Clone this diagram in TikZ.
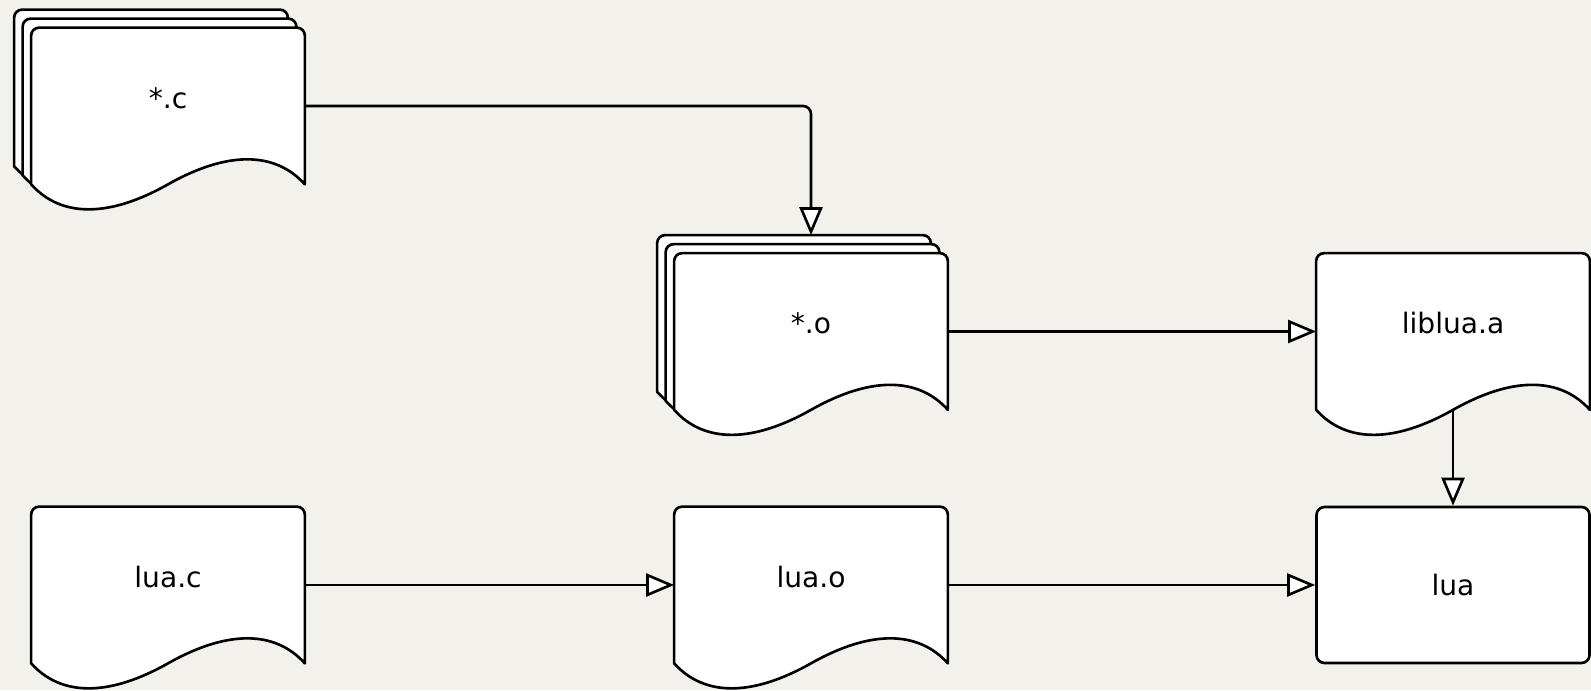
\documentclass[tikz,border=0pt]{standalone}
\usepackage{fontspec}
\setmainfont{DejaVu Sans}
\usetikzlibrary{arrows.meta,backgrounds}
\definecolor{paper}{HTML}{F3F1EC}

% corner radius of sheets, boxes and bends
\def\crad{0.16cm}
% one sheet with a wavy bottom, drawn round a node
\newcommand\docsheet[2][]{%
  \path[sheet,#1] (#2.south west) -- ([yshift=-\crad]#2.north west)
    arc[start angle=180, end angle=90, radius=\crad] -- ([xshift=-\crad]#2.north east)
    arc[start angle=90, end angle=0, radius=\crad] -- (#2.south east)
    .. controls +(-0.6,0.667) and +(1.18,0.667) .. (#2.south)
    .. controls +(-1.18,-0.667) and +(0.6,-0.667) .. (#2.south west) -- cycle;}
% three sheets stacked
\newcommand\docstack[1]{%
  \docsheet[transform canvas={shift={(-0.34,0.36)}}]{#1}
  \docsheet[transform canvas={shift={(-0.17,0.18)}}]{#1}
  \docsheet{#1}}

\begin{document}
\begin{tikzpicture}[line join=round, font=\fontsize{16}{19}\selectfont,
	doc/.style={minimum width=5.46cm, minimum height=3.12cm, inner sep=0pt, text height=0.45cm, text depth=0.35cm},
	box/.style={draw, fill=white, line width=1.5pt, rounded corners=\crad, minimum width=5.46cm, minimum height=3.12cm, inner sep=0pt},
	sheet/.style={draw, fill=white, line width=1.5pt, line join=round},
	flow/.style={line width=1.5pt, -{Triangle[length=0.56cm, width=0.46cm, fill=white]}}]
	\def\xa{3.36}
	\def\xb{16.22}
	\def\xc{29.06}
	\def\ya{11.68}
	\def\yb{7.17}
	\def\yc{2.10}
	\useasboundingbox (0,0) rectangle (31.82,13.8);
	\node[doc] (srcs) at (\xa,\ya) {*.c};
	\node[doc] (objs) at (\xb,\yb) {*.o};
	\node[doc] (liblua) at (\xc,\yb) {liblua.a};
	\node[doc] (luac) at (\xa,\yc) {lua.c};
	\node[doc] (luao) at (\xb,\yc) {lua.o};
	\node[box] (lua) at (\xc,\yc) {lua};
	\begin{scope}[on background layer]
		\fill[paper] (0,0) rectangle (31.82,13.8);
		\docstack{srcs}
		\docstack{objs}
		\docsheet{liblua}
		\docsheet{luac}
		\docsheet{luao}
	\end{scope}
	% top of the back sheet of *.o
	\coordinate (objtop) at ([yshift=0.36cm]objs.north);
	\draw[flow, rounded corners=\crad] (srcs.east) -| (objtop);
	\draw[flow] (objs.east) -- (liblua.west);
	\draw[flow] (liblua.south) -- (lua.north);
	\draw[flow] (luac.east) -- (luao.west);
	\draw[flow] (luao.east) -- (lua.west);
\end{tikzpicture}
\end{document}
